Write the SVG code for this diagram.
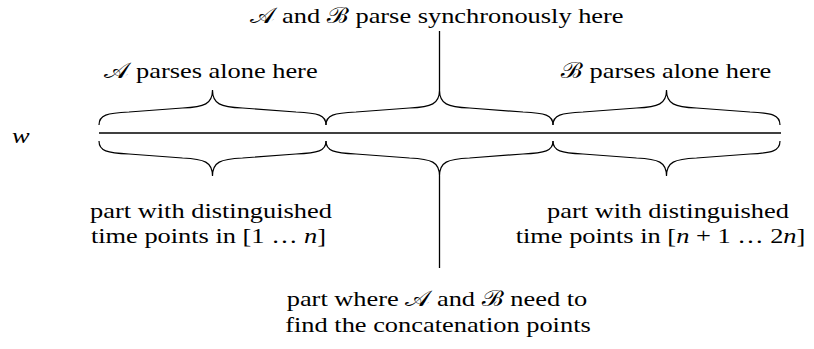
<svg xmlns="http://www.w3.org/2000/svg" xmlns:xlink="http://www.w3.org/1999/xlink" width="814" height="349" viewBox="0 0 814 349">
<style>
  .t { font-family: "Liberation Serif", "DejaVu Serif", "Noto Sans", serif; font-size: 22px; fill: #000; text-anchor: middle; }
  .m { font-style: italic; }
  .s { font-family: "DejaVu Serif", "Liberation Serif", "Noto Sans", serif; }
  .ln { stroke: #000; stroke-width: 1.3; fill: none; }
  .br { stroke: #000; stroke-width: 1.2; fill: none; }
</style>
<defs>
  <path id="brace" d="M0,125 C0,115 8,113 30,112 L83.5,108 C105.5,107 113.5,104 113.5,90 C113.5,104 121.5,107 143.5,108 L197,112 C219,113 227,115 227,125"/>
</defs>
<rect width="814" height="349" fill="#fff"/>

<g id="word">
  <line class="ln" x1="99" y1="133" x2="781" y2="133"/>
  <text class="t m" transform="translate(12,143) scale(1.2,1)" style="text-anchor:start">w</text>
</g>

<g id="braces-top">
  <use xlink:href="#brace" class="br" x="99"/>
  <use xlink:href="#brace" class="br" x="326"/>
  <use xlink:href="#brace" class="br" x="553"/>
</g>
<g id="braces-bottom">
  <use xlink:href="#brace" class="br" transform="translate(99,266) scale(1,-1)"/>
  <use xlink:href="#brace" class="br" transform="translate(326,266) scale(1,-1)"/>
  <use xlink:href="#brace" class="br" transform="translate(553,266) scale(1,-1)"/>
</g>

<g id="connectors">
  <line class="ln" x1="439.5" y1="31" x2="439.5" y2="90"/>
  <line class="ln" x1="439.5" y1="176" x2="439.5" y2="268"/>
</g>

<g id="label-sync">
  <text class="t" transform="translate(437,23) scale(1.2,1)"><tspan class="s">𝒜</tspan> and <tspan class="s">ℬ</tspan> parse synchronously here</text>
</g>
<g id="label-a-alone">
  <text class="t" transform="translate(211,78) scale(1.2,1)"><tspan class="s">𝒜</tspan> parses alone here</text>
</g>
<g id="label-b-alone">
  <text class="t" transform="translate(666,78) scale(1.2,1)"><tspan class="s">ℬ</tspan> parses alone here</text>
</g>
<g id="label-left">
  <text class="t" transform="translate(211,218) scale(1.2,1)">part with distinguished</text>
  <text class="t" transform="translate(208.5,243) scale(1.2,1)">time points in [1 … <tspan class="m">n</tspan>]</text>
</g>
<g id="label-right">
  <text class="t" transform="translate(668,218) scale(1.2,1)">part with distinguished</text>
  <text class="t" transform="translate(660.5,243) scale(1.2,1)">time points in [<tspan class="m">n</tspan> + 1 … 2<tspan class="m">n</tspan>]</text>
</g>
<g id="label-middle">
  <text class="t" transform="translate(437,306) scale(1.2,1)">part where <tspan class="s">𝒜</tspan> and <tspan class="s">ℬ</tspan> need to</text>
  <text class="t" transform="translate(438,332) scale(1.2,1)">find the concatenation points</text>
</g>
</svg>
